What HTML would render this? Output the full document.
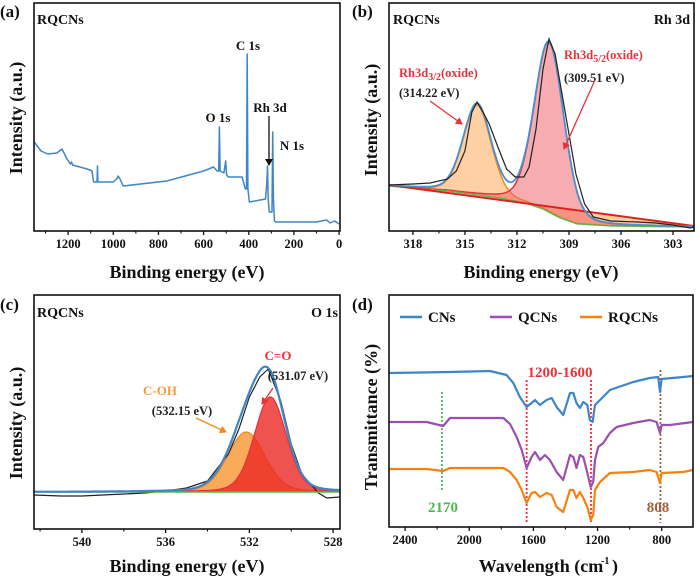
<!DOCTYPE html>
<html><head><meta charset="utf-8"><style>
body{margin:0;background:#fff;}
svg{display:block;font-family:"Liberation Serif",serif;font-weight:bold;}
</style></head><body>
<svg id="fig" width="700" height="581" viewBox="0 0 700 581" xmlns="http://www.w3.org/2000/svg">
<defs>
<marker id="ahBlack" markerWidth="8" markerHeight="8" refX="6" refY="4" orient="auto" markerUnits="userSpaceOnUse"><path d="M0,0 L7,4 L0,8 z" fill="#111"/></marker>
<marker id="ahRed" markerWidth="8" markerHeight="8" refX="6" refY="4" orient="auto" markerUnits="userSpaceOnUse"><path d="M0,0 L7,4 L0,8 z" fill="#e8323a"/></marker>
<marker id="ahOrange" markerWidth="8" markerHeight="8" refX="6" refY="4" orient="auto" markerUnits="userSpaceOnUse"><path d="M0,0 L7,4 L0,8 z" fill="#f08a1c"/></marker>
</defs>
</svg>
<script>
// ---------- Panel (a) survey ----------
const surveyE = [1350,1320,1290,1250,1227,1205,1190,1185,1180,1116,1094,1087,1072,1070,1068,1000,985,978,970,956,763,600,556,540,533,530,527,510,502,498,490,430,415,410,407,404,397,326,320,317,314,309,297,294,291,286,280,100,55,40,20,0];
const surveyI = [89,80,77,78,82,72,67,69,66,62,60,49,49,65,49,49,52,55,52,45,50,60,64,60,60,104,60,58,70,56,54,54,42,42,177,42,29,32,47,65,32,19,19,99,32,10,9,9,11,8,10,7];
const surveyTicks = [1200,1000,800,600,400,200,0];
// ---------- Panel (b) Rh 3d ----------
const rhRawE = [319.4,318,317,316,315.5,315,314.6,314.3,313.9,313.6,313.1,312.6,312.1,311.6,311.3,310.9,310.5,310.15,309.8,309.4,308.9,308.6,308.1,307.6,306.6,305,304,303,302,301.8];
const rhRawI = [46,47,48,52,60,80,119,129,117,107,84,62,54,54,64,102,162,192,177,137,87,57,27,14,10,9,8,6,3,4];
const rhBgE = [319.4,316,313,311.5,310.5,309.5,308.5,306.5,301.8];
const rhBgI = [45,40,33,28,22,13,7,5,4];
const rhLineE = [319.4,301.8];
const rhLineI = [46,5];
const rhPeakCenters = [314.3,310.15];
const rhPeakHeights = [90,170];
const rhPeakFwhm = [1.9,2.0];
const rhTicks = [318,315,312,309,306,303];
// ---------- Panel (c) O 1s ----------
const oRawE = [542.3,541,540,539,538,537,536,535,534,533,532.5,532,531.5,531.1,530.5,530,529.5,529,528.7,528.3,527.7];
const oRawI = [34,33,33,34,35,36,38,41,48,75,100,132,152,160,128,85,55,43,36,31,32];
const oBase = 37;
const oPeakCenters = [532.15,531.0];
const oPeakHeights = [60,95];
const oPeakFwhm = [2.1,1.8];
const oTicks = [540,536,532,528];
// ---------- Panel (d) FTIR ----------
const cnsW = [2500,2494,2120,1871,1767,1725,1684,1642,1611,1590,1559,1518,1486,1455,1414,1372,1351,1331,1310,1289,1264,1248,1231,1216,1185,1123,978,874,822,811,801,666,605];
const cnsT = [154,154,155,156,152,144,130,120,124,127,122,127,129,120,112,134,134,124,119,125,122,107,105,122,127,137,145,149,150,135,148,150,151];
const qcnsW = [2500,2494,2265,2162,2120,1787,1746,1704,1673,1642,1611,1590,1559,1528,1497,1455,1414,1372,1351,1331,1310,1289,1268,1243,1227,1216,1196,1164,1123,1081,978,874,832,811,801,749,605];
const qcnsT = [105,105,105,101,109,109,103,90,77,59,70,75,67,72,67,55,47,72,70,59,72,70,57,40,45,67,80,84,94,100,104,107,105,94,102,102,105];
const rqcnsW = [2500,2494,2265,2162,2120,1787,1746,1704,1673,1642,1611,1590,1559,1518,1486,1455,1414,1372,1351,1331,1310,1289,1264,1243,1227,1216,1185,1123,978,874,832,811,801,666,605];
const rqcnsT = [58,58,58,56,59,59,55,47,37,24,34,35,30,34,32,20,15,37,37,29,35,29,20,7,12,37,45,54,55,57,55,44,54,55,57];
const ftirTicks = [2400,2000,1600,1200,800];
const ftirMarks = [2170,1642,1241,808];

const NS = "http://www.w3.org/2000/svg";
const svg = document.getElementById('fig');
function mk(tag, attrs, parent){
  const e = document.createElementNS(NS, tag);
  for (const k in attrs) e.setAttribute(k, attrs[k]);
  (parent||svg).appendChild(e);
  return e;
}
function lin(d0,d1,r0,r1){ return v => r0 + (v-d0)*(r1-r0)/(d1-d0); }
function pathFrom(xs, ys, sx, sy){
  return xs.map((x,i)=>(i?'L':'M')+sx(x).toFixed(1)+','+sy(ys[i]).toFixed(1)).join(' ');
}
function pv(x,c,h,f){ const s=f/2.3548; const g=Math.exp(-0.5*((x-c)/s)**2); const l=1/(1+((x-c)/(f/2))**2); return h*(0.8*g+0.2*l); }
function interp(xs, ys, x){
  for(let i=0;i<xs.length-1;i++){
    const a=xs[i], b=xs[i+1];
    if((x-a)*(x-b)<=0){ const t=(x-a)/(b-a||1); return ys[i]+t*(ys[i+1]-ys[i]); }
  }
  return ys[ys.length-1];
}
function frame(x0,y0,x1,y1,name){
  const r = mk('rect',{x:x0,y:y0,width:x1-x0,height:y1-y0,fill:'none',stroke:'#111','stroke-width':1.6});
  
  
}
function text(x,y,s,opts,name){
  const t = mk('text',Object.assign({x:x,y:y},opts||{}));
  t.textContent = s;
  
  
  return t;
}
function xTicks(ticks, sx, yb, minorStep, dmin, dmax, name){
  const g = mk('g',{});
  
  
  ticks.forEach(v=>{
    mk('line',{x1:sx(v),x2:sx(v),y1:yb,y2:yb+4,stroke:'#111','stroke-width':1.3},g);
    const t = mk('text',{x:sx(v),y:yb+17,'font-size':12.5,'text-anchor':'middle',fill:'#111'},g);
    t.textContent = v;
  });
  if(minorStep){
    const lo=Math.min(dmin,dmax), hi=Math.max(dmin,dmax);
    for(let v=Math.ceil(lo/minorStep)*minorStep; v<=hi; v+=minorStep){
      if(ticks.some(t=>Math.abs(t-v)<1e-6)) continue;
      mk('line',{x1:sx(v),x2:sx(v),y1:yb,y2:yb+2.5,stroke:'#111','stroke-width':1.1},g);
    }
  }
}

// ===== Panel a =====
(function(){
  const x0=34,x1=340,y0=3,y1=231;
  const sx=lin(1351,-4,x0,x1), sy=v=>y1-v;
  const p = mk('path',{d:pathFrom(surveyE,surveyI,sx,sy),fill:'none',stroke:'#3f86c6','stroke-width':1.5,'stroke-linejoin':'round'});
  
  
  frame(x0,y0,x1,y1,'panel-a-frame');
  xTicks(surveyTicks,sx,y1,100,1351,-4,'panel-a-x-ticks');
  text(0,17,'(a)',{'font-size':17,fill:'#111'},'panel-a-label');
  text(37,24,'RQCNs',{'font-size':14,fill:'#111'},'panel-a-sample-label');
  text(248,50,'C 1s',{'font-size':13,'text-anchor':'middle',fill:'#111'},'c1s-label');
  text(218,122,'O 1s',{'font-size':13,'text-anchor':'middle',fill:'#111'},'o1s-label');
  text(270,112,'Rh 3d',{'font-size':13,'text-anchor':'middle',fill:'#111'},'rh3d-label');
  text(292,150,'N 1s',{'font-size':13,'text-anchor':'middle',fill:'#111'},'n1s-label');
  const a = mk('line',{x1:269,y1:116,x2:269,y2:165,stroke:'#111','stroke-width':1.3,'marker-end':'url(#ahBlack)'});
  
  
  text(187,278,'Binding energy (eV)',{'font-size':18,'text-anchor':'middle',fill:'#111'},'panel-a-x-title');
  text(0,0,'Intensity (a.u.)',{'font-size':18,'text-anchor':'middle',fill:'#111',transform:'translate(22,118) rotate(-90)'},'panel-a-y-title');
})();

// ===== Panel b =====
(function(){
  const x0=389,x1=694,y0=3,y1=231;
  const sx=lin(319.38,301.79,x0,x1), sy=v=>y1-v;
  const N=160, es=[];
  for(let i=0;i<=N;i++) es.push(319.38-(319.38-301.79)*i/N);
  const bg = es.map(e=>interp(rhBgE,rhBgI,e));
  const line = es.map(e=>interp(rhLineE,rhLineI,e));
  let d='';
  es.forEach((e,i)=>{ d+=(i?'L':'M')+sx(e).toFixed(1)+','+sy(Math.max(line[i],bg[i])).toFixed(1); });
  for(let i=N;i>=0;i--) d+='L'+sx(es[i]).toFixed(1)+','+sy(bg[i]).toFixed(1);
  const f0=mk('path',{d:d+'Z',fill:'rgba(245,160,70,0.5)',stroke:'none'});
  
  
  const comps=[['rgba(255,170,90,0.55)','#f08a1c','rh3d32-component'],['rgba(240,90,100,0.5)','#e8323a','rh3d52-component']];
  rhPeakCenters.forEach((c,k)=>{
    const top = es.map((e,i)=>bg[i]+pv(e,c,rhPeakHeights[k],rhPeakFwhm[k]));
    let dd=''; es.forEach((e,i)=>{dd+=(i?'L':'M')+sx(e).toFixed(1)+','+sy(top[i]).toFixed(1);});
    let back=''; for(let i=N;i>=0;i--) back+='L'+sx(es[i]).toFixed(1)+','+sy(bg[i]).toFixed(1);
    const pf=mk('path',{d:dd+back+'Z',fill:comps[k][0],stroke:'none'});
    
    
    const pl=mk('path',{d:dd,fill:'none',stroke:comps[k][1],'stroke-width':1.5});
    
    
  });
  const bgl=mk('path',{d:pathFrom(es,bg,sx,sy),fill:'none',stroke:'#5cb84a','stroke-width':1.4});
  
  
  const ll=mk('path',{d:pathFrom(rhLineE,rhLineI,sx,sy),fill:'none',stroke:'#e02020','stroke-width':2});
  
  
  const env = es.map((e,i)=>bg[i]+rhPeakCenters.reduce((s,c,k)=>s+pv(e,c,rhPeakHeights[k],rhPeakFwhm[k]),0));
  const el=mk('path',{d:pathFrom(es,env,sx,sy),fill:'none',stroke:'#4a90d0','stroke-width':1.8});
  
  
  const rl=mk('path',{d:pathFrom(rhRawE,rhRawI,sx,sy),fill:'none',stroke:'#222','stroke-width':1.2});
  
  
  frame(x0,y0,x1,y1,'panel-b-frame');
  xTicks(rhTicks,sx,y1,1.5,319.38,301.79,'panel-b-x-ticks');
  text(352,17,'(b)',{'font-size':17,fill:'#111'},'panel-b-label');
  text(393,24,'RQCNs',{'font-size':14,fill:'#111'},'panel-b-sample-label');
  text(690,24,'Rh 3d',{'font-size':14,'text-anchor':'end',fill:'#111'},'panel-b-region-label');
  const t1=text(399,77,'Rh3d',{'font-size':12.5,fill:'#e8323a'},'rh3d32-label');
  const s1=mk('tspan',{dy:3,'font-size':10},t1); s1.textContent='3/2';
  const s2=mk('tspan',{dy:-3},t1); s2.textContent='(oxide)';
  text(399,97,'(314.22 eV)',{'font-size':12.5,fill:'#222'},'rh3d32-energy');
  const t2=text(564,59,'Rh3d',{'font-size':12.5,fill:'#e8323a'},'rh3d52-label');
  const s3=mk('tspan',{dy:3,'font-size':10},t2); s3.textContent='5/2';
  const s4=mk('tspan',{dy:-3},t2); s4.textContent='(oxide)';
  text(564,82,'(309.51 eV)',{'font-size':12.5,fill:'#222'},'rh3d52-energy');
  const a1=mk('line',{x1:430,y1:101,x2:462,y2:124,stroke:'#e8323a','stroke-width':1.3,'marker-end':'url(#ahRed)'});
  
  
  const a2=mk('line',{x1:595,y1:80,x2:564,y2:149,stroke:'#e8323a','stroke-width':1.3,'marker-end':'url(#ahRed)'});
  
  
  text(541,278,'Binding energy (eV)',{'font-size':18,'text-anchor':'middle',fill:'#111'},'panel-b-x-title');
  text(0,0,'Intensity (a.u.)',{'font-size':18,'text-anchor':'middle',fill:'#111',transform:'translate(377,120) rotate(-90)'},'panel-b-y-title');
})();

// ===== Panel c =====
(function(){
  const x0=34,x1=340,y0=295,y1=529;
  const sx=lin(542.29,527.67,x0,x1), sy=v=>y1-v;
  const N=160, es=[];
  for(let i=0;i<=N;i++) es.push(542.29-(542.29-527.67)*i/N);
  const cols=[['rgba(248,150,50,0.8)','#f08a1c','coh-component'],['rgba(235,40,35,0.8)','#e8323a','co-component']];
  oPeakCenters.forEach((c,k)=>{
    const top=es.map(e=>oBase+pv(e,c,oPeakHeights[k],oPeakFwhm[k]));
    const dd=pathFrom(es,top,sx,sy);
    const pf=mk('path',{d:dd+'L'+x1+','+sy(oBase)+'L'+x0+','+sy(oBase)+'Z',fill:cols[k][0],stroke:'none'});
    
    
    const pl=mk('path',{d:dd,fill:'none',stroke:cols[k][1],'stroke-width':1.3});
    
    
  });
  const rl=mk('path',{d:pathFrom(oRawE,oRawI,sx,sy),fill:'none',stroke:'#222','stroke-width':1.2});
  
  
  const bl=mk('line',{x1:x0,x2:x1,y1:sy(oBase),y2:sy(oBase),stroke:'#5cb84a','stroke-width':1.4});
  
  
  const env=es.map(e=>oBase+oPeakCenters.reduce((s,c,k)=>s+pv(e,c,oPeakHeights[k],oPeakFwhm[k]),0));
  const el=mk('path',{d:pathFrom(es,env,sx,sy),fill:'none',stroke:'#3f86c6','stroke-width':2.2});
  
  
  frame(x0,y0,x1,y1,'panel-c-frame');
  xTicks(oTicks,sx,y1,2,542.29,527.67,'panel-c-x-ticks');
  text(0,310,'(c)',{'font-size':17,fill:'#111'},'panel-c-label');
  text(37,317,'RQCNs',{'font-size':14,fill:'#111'},'panel-c-sample-label');
  text(338,317,'O 1s',{'font-size':14,'text-anchor':'end',fill:'#111'},'panel-c-region-label');
  text(278,360,'C=O',{'font-size':13,'text-anchor':'middle',fill:'#e8323a'},'co-label');
  text(298,380,'(531.07 eV)',{'font-size':12.5,'text-anchor':'middle',fill:'#222'},'co-energy');
  text(160,395,'C-OH',{'font-size':13,'text-anchor':'middle',fill:'#f59a3a'},'coh-label');
  text(182,415,'(532.15 eV)',{'font-size':12.5,'text-anchor':'middle',fill:'#222'},'coh-energy');
  const a1=mk('line',{x1:196,y1:418,x2:226,y2:432,stroke:'#f08a1c','stroke-width':1.3,'marker-end':'url(#ahOrange)'});
  
  
  const a2=mk('line',{x1:273,y1:388,x2:262,y2:404,stroke:'#e8323a','stroke-width':1.3,'marker-end':'url(#ahRed)'});
  
  
  text(187,572,'Binding energy (eV)',{'font-size':18,'text-anchor':'middle',fill:'#111'},'panel-c-x-title');
  text(0,0,'Intensity (a.u.)',{'font-size':18,'text-anchor':'middle',fill:'#111',transform:'translate(22,423) rotate(-90)'},'panel-c-y-title');
})();

// ===== Panel d =====
(function(){
  const x0=389,x1=693,y0=295,y1=527;
  const sx=lin(2500,605,x0,x1), sy=v=>y1-v;
  const markCols=['#4cb84c','#e8323a','#e8323a','#a0603a'];
  const markTop=[392,380,380,370], markBot=[492,523,523,523];
  ftirMarks.forEach((w,i)=>{
    const l=mk('line',{x1:sx(w),x2:sx(w),y1:markTop[i],y2:markBot[i],stroke:markCols[i],'stroke-width':1.8,'stroke-dasharray':'2,2'});
    
    
  });
  const series=[[cnsW,cnsT,'#3f86c6','cns-spectrum'],[qcnsW,qcnsT,'#9b4fb0','qcns-spectrum'],[rqcnsW,rqcnsT,'#f5820f','rqcns-spectrum']];
  series.forEach(s=>{
    const p=mk('path',{d:pathFrom(s[0],s[1],sx,sy),fill:'none',stroke:s[2],'stroke-width':2.2,'stroke-linejoin':'round'});
    
    
  });
  frame(x0,y0,x1,y1,'panel-d-frame');
  xTicks(ftirTicks,sx,y1,200,2500,605,'panel-d-x-ticks');
  text(352,310,'(d)',{'font-size':17,fill:'#111'},'panel-d-label');
  const leg=[['CNs','#3f86c6',400],['QCNs','#9b4fb0',490],['RQCNs','#f5820f',580]];
  leg.forEach(l=>{
    const g=mk('g',{});
    
    
    mk('line',{x1:l[2],x2:l[2]+22,y1:317,y2:317,stroke:l[1],'stroke-width':2.5},g);
    const t=mk('text',{x:l[2]+28,y:322,'font-size':15,fill:'#111'},g); t.textContent=l[0];
  });
  text(560,377,'1200-1600',{'font-size':15,'text-anchor':'middle',fill:'#e8323a'},'range-1200-1600-label');
  text(443,512,'2170',{'font-size':15,'text-anchor':'middle',fill:'#4cb84c'},'peak-2170-label');
  text(658,512,'808',{'font-size':15,'text-anchor':'middle',fill:'#a0603a'},'peak-808-label');
  text(541,572,'Wavelength (cm',{'font-size':18,'text-anchor':'middle',fill:'#111'},'panel-d-x-title');
  text(601,564,'-1',{'font-size':10,fill:'#111'},'panel-d-x-title-sup');
  text(612,572,')',{'font-size':18,fill:'#111'},'panel-d-x-title-close');
  text(0,0,'Transmittance (%)',{'font-size':18,'text-anchor':'middle',fill:'#111',transform:'translate(377,417) rotate(-90)'},'panel-d-y-title');
})();
</script>
</body></html>
